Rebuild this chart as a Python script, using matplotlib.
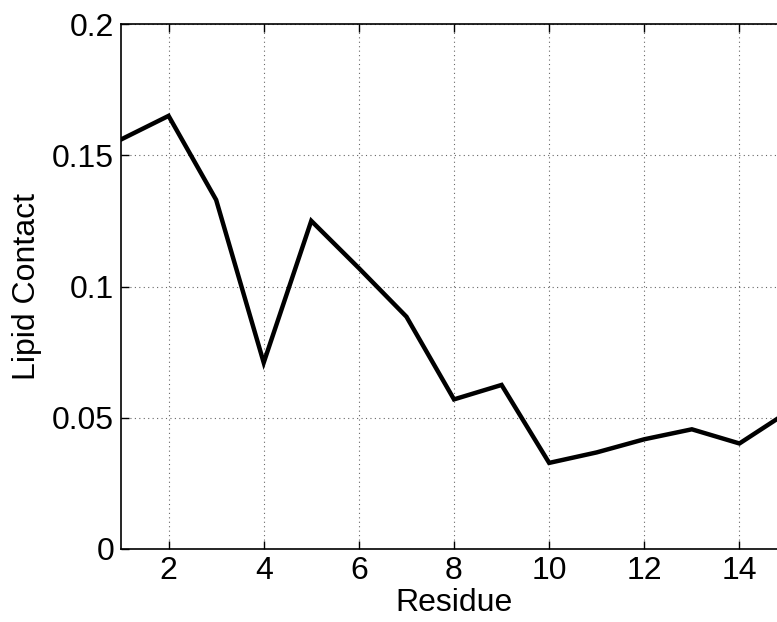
import numpy as np
import matplotlib
matplotlib.use('Agg')
import matplotlib.pyplot as plt

# values
residue = [1, 2, 3, 4, 5, 6, 7, 8, 9, 10, 11, 12, 13, 14, 15]
lipid_contact = [0.156, 0.165, 0.133, 0.071, 0.125, 0.107, 0.0885, 0.057, 0.0625,
                 0.0328, 0.0368, 0.0418, 0.0456, 0.0402, 0.052]

xticks = [2, 4, 6, 8, 10, 12, 14]
yticks = [0, 0.05, 0.1, 0.15, 0.2]
ytick_labels = ['0', '0.05', '0.1', '0.15', '0.2']

plt.rcParams['font.family'] = ['Liberation Sans', 'DejaVu Sans']

fig = plt.figure(figsize=(7.77, 6.22), dpi=100)
ax = fig.add_axes([121 / 777, 1 - 549 / 622, 666 / 777, 525 / 622])

ax.plot(residue, lipid_contact, color='black', linewidth=3.2, solid_joinstyle='miter')

'''AXIS SETTINGS'''
ax.set_xlim(1, 15)
ax.set_ylim(0, 0.2)
ax.set_xticks(xticks)
ax.set_yticks(yticks)
ax.set_yticklabels(ytick_labels)
ax.tick_params(direction='in', length=6, width=1, labelsize=23, top=True, right=True)
ax.tick_params(axis='x', pad=5)
ax.tick_params(axis='y', pad=5)
ax.grid(True, linestyle=(0, (1, 3)), color='black', linewidth=0.8, alpha=0.6)
for s in ax.spines.values():
    s.set_linewidth(1.2)

ax.set_xlabel('Residue', fontsize=23)
ax.xaxis.set_label_coords(0.5, -0.074)
ax.set_ylabel('Lipid Contact', fontsize=23)
ax.yaxis.set_label_coords(-0.118, 0.5)

fig.savefig('out.png', dpi=100)
plt.close()
